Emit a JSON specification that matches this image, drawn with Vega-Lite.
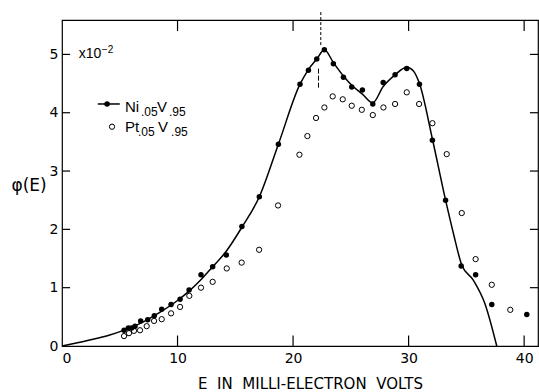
{
  "$schema": "https://vega.github.io/schema/vega-lite/v6.json",
  "width": 476,
  "height": 326,
  "autosize": {"type": "none"},
  "padding": {"left": 62, "top": 20, "right": 1, "bottom": 46},
  "background": "white",
  "config": {
    "view": {"stroke": "black", "strokeWidth": 1.2},
    "font": "Liberation Sans",
    "axis": {"grid": false, "domain": false, "ticks": false, "labelFont": "DejaVu Sans", "titleFont": "DejaVu Sans", "labelColor": "black", "titleColor": "black", "labelFontSize": 14, "titleFontWeight": "normal"}
  },
  "datasets": {
    "curve": [
      {"E": 0, "phi": 0}, {"E": 2.3, "phi": 0.1}, {"E": 4, "phi": 0.18}, {"E": 5.5, "phi": 0.28},
      {"E": 7, "phi": 0.41}, {"E": 8.5, "phi": 0.58}, {"E": 10, "phi": 0.78}, {"E": 11, "phi": 0.94},
      {"E": 12, "phi": 1.13}, {"E": 13, "phi": 1.35}, {"E": 14.2, "phi": 1.62}, {"E": 15.55, "phi": 2.03},
      {"E": 17.08, "phi": 2.56}, {"E": 18.73, "phi": 3.46}, {"E": 20.6, "phi": 4.49}, {"E": 21.33, "phi": 4.74},
      {"E": 22.05, "phi": 4.92}, {"E": 22.71, "phi": 5.08}, {"E": 23.49, "phi": 4.86}, {"E": 24.36, "phi": 4.63},
      {"E": 25.08, "phi": 4.47}, {"E": 26.0, "phi": 4.32}, {"E": 26.9, "phi": 4.17}, {"E": 27.8, "phi": 4.45},
      {"E": 28.83, "phi": 4.65}, {"E": 29.84, "phi": 4.78}, {"E": 30.4, "phi": 4.72}, {"E": 30.94, "phi": 4.5},
      {"E": 32.06, "phi": 3.55}, {"E": 33.2, "phi": 2.5}, {"E": 33.88, "phi": 1.93}, {"E": 34.6, "phi": 1.39},
      {"E": 35.6, "phi": 1.13}, {"E": 36.6, "phi": 0.73}, {"E": 37.63, "phi": 0.0}
    ],
    "ni": [
      {"E": 5.37, "phi": 0.27}, {"E": 5.74, "phi": 0.31}, {"E": 6.03, "phi": 0.31}, {"E": 6.32, "phi": 0.34},
      {"E": 6.81, "phi": 0.43}, {"E": 7.42, "phi": 0.45}, {"E": 7.99, "phi": 0.52}, {"E": 8.63, "phi": 0.63},
      {"E": 9.44, "phi": 0.71}, {"E": 10.22, "phi": 0.8}, {"E": 11.0, "phi": 0.96}, {"E": 12.03, "phi": 1.22},
      {"E": 13.04, "phi": 1.36}, {"E": 14.22, "phi": 1.56}, {"E": 15.57, "phi": 2.05}, {"E": 17.08, "phi": 2.56},
      {"E": 18.73, "phi": 3.46}, {"E": 20.6, "phi": 4.49}, {"E": 21.33, "phi": 4.73}, {"E": 22.05, "phi": 4.92},
      {"E": 22.71, "phi": 5.08}, {"E": 23.49, "phi": 4.84}, {"E": 24.36, "phi": 4.61}, {"E": 25.08, "phi": 4.44},
      {"E": 26.0, "phi": 4.39}, {"E": 26.9, "phi": 4.15}, {"E": 27.8, "phi": 4.52}, {"E": 28.83, "phi": 4.65},
      {"E": 29.84, "phi": 4.76}, {"E": 30.94, "phi": 4.49}, {"E": 32.06, "phi": 3.53}, {"E": 33.2, "phi": 2.5},
      {"E": 34.55, "phi": 1.37}, {"E": 35.8, "phi": 1.22}, {"E": 37.2, "phi": 0.71}, {"E": 40.23, "phi": 0.54}
    ],
    "pt": [
      {"E": 5.37, "phi": 0.17}, {"E": 5.8, "phi": 0.22}, {"E": 6.23, "phi": 0.26}, {"E": 6.75, "phi": 0.27},
      {"E": 7.33, "phi": 0.34}, {"E": 7.97, "phi": 0.43}, {"E": 8.63, "phi": 0.46}, {"E": 9.44, "phi": 0.56},
      {"E": 10.22, "phi": 0.67}, {"E": 11.02, "phi": 0.86}, {"E": 12.03, "phi": 1.0}, {"E": 13.04, "phi": 1.1},
      {"E": 14.26, "phi": 1.33}, {"E": 15.55, "phi": 1.43}, {"E": 17.06, "phi": 1.65}, {"E": 18.7, "phi": 2.41},
      {"E": 20.55, "phi": 3.28}, {"E": 21.24, "phi": 3.6}, {"E": 21.99, "phi": 3.91}, {"E": 22.71, "phi": 4.09},
      {"E": 23.43, "phi": 4.28}, {"E": 24.3, "phi": 4.23}, {"E": 25.08, "phi": 4.12}, {"E": 25.95, "phi": 4.05},
      {"E": 26.9, "phi": 3.96}, {"E": 27.82, "phi": 4.09}, {"E": 28.83, "phi": 4.15}, {"E": 29.84, "phi": 4.35},
      {"E": 30.91, "phi": 4.15}, {"E": 32.06, "phi": 3.82}, {"E": 33.3, "phi": 3.29}, {"E": 34.6, "phi": 2.28},
      {"E": 35.8, "phi": 1.49}, {"E": 37.2, "phi": 1.05}, {"E": 38.8, "phi": 0.62}
    ],
    "xticks": [{"E": 10}, {"E": 20}, {"E": 30}, {"E": 40}],
    "yticks": [{"phi": 1}, {"phi": 2}, {"phi": 3}, {"phi": 4}, {"phi": 5}]
  },
  "layer": [
    {
      "data": {"name": "curve"},
      "mark": {"type": "line", "interpolate": "monotone", "color": "black", "strokeWidth": 1.5},
      "encoding": {
        "x": {"field": "E", "type": "quantitative", "scale": {"domain": [0, 41.2], "nice": false, "zero": false},
          "axis": {"orient": "bottom", "values": [0, 10, 20, 30, 40], "labelPadding": 5, "title": "E\u00a0\u00a0IN\u00a0\u00a0MILLI-ELECTRON\u00a0\u00a0VOLTS", "titleFontSize": 15, "titlePadding": 11, "titleX": 248}},
        "y": {"field": "phi", "type": "quantitative", "scale": {"domain": [0, 5.59], "nice": false, "zero": false},
          "axis": {"orient": "left", "values": [0, 1, 2, 3, 4, 5], "labelPadding": 4, "title": "φ(E)", "titleFontSize": 17, "titleAngle": 0, "titleAlign": "left", "titleBaseline": "middle", "titleX": -51, "titleY": 165}}
      }
    },
    {
      "data": {"name": "xticks"},
      "mark": {"type": "rule", "color": "black", "strokeWidth": 1.2},
      "encoding": {
        "x": {"field": "E", "type": "quantitative", "axis": null},
        "y": {"datum": 0, "type": "quantitative", "axis": null},
        "y2": {"datum": 0.18}
      }
    },
    {
      "data": {"name": "xticks"},
      "mark": {"type": "rule", "color": "black", "strokeWidth": 1.2},
      "encoding": {
        "x": {"field": "E", "type": "quantitative", "axis": null},
        "y": {"datum": 5.4, "type": "quantitative", "axis": null},
        "y2": {"datum": 5.59}
      }
    },
    {
      "data": {"name": "yticks"},
      "mark": {"type": "rule", "color": "black", "strokeWidth": 1.2},
      "encoding": {
        "y": {"field": "phi", "type": "quantitative", "axis": null},
        "x": {"datum": 0, "type": "quantitative", "axis": null},
        "x2": {"datum": 0.7}
      }
    },
    {
      "data": {"name": "yticks"},
      "mark": {"type": "rule", "color": "black", "strokeWidth": 1.2},
      "encoding": {
        "y": {"field": "phi", "type": "quantitative", "axis": null},
        "x": {"datum": 40.5, "type": "quantitative", "axis": null},
        "x2": {"datum": 41.2}
      }
    },
    {
      "data": {"name": "ni"},
      "mark": {"type": "circle", "color": "black", "size": 30, "opacity": 1},
      "encoding": {
        "x": {"field": "E", "type": "quantitative", "axis": null},
        "y": {"field": "phi", "type": "quantitative", "axis": null}
      }
    },
    {
      "data": {"name": "pt"},
      "mark": {"type": "point", "shape": "circle", "color": "black", "size": 28, "strokeWidth": 1, "filled": false, "opacity": 1},
      "encoding": {
        "x": {"field": "E", "type": "quantitative", "axis": null},
        "y": {"field": "phi", "type": "quantitative", "axis": null}
      }
    },
    {
      "data": {"values": [{"E": 22.4, "lo": 5.16, "hi": 5.76}]},
      "mark": {"type": "rule", "color": "black", "strokeWidth": 1, "strokeDash": [3, 2], "clip": false},
      "encoding": {
        "x": {"field": "E", "type": "quantitative", "axis": null},
        "y": {"field": "lo", "type": "quantitative", "axis": null},
        "y2": {"field": "hi"}
      }
    },
    {
      "data": {"values": [{"E": 22.2, "lo": 4.43, "hi": 4.77}]},
      "mark": {"type": "rule", "color": "black", "strokeWidth": 1, "strokeDash": [5, 2]},
      "encoding": {
        "x": {"field": "E", "type": "quantitative", "axis": null},
        "y": {"field": "lo", "type": "quantitative", "axis": null},
        "y2": {"field": "hi"}
      }
    },
    {
      "data": {"values": [{"a": 3.1, "b": 5.0, "phi": 4.15}]},
      "mark": {"type": "rule", "color": "black", "strokeWidth": 1.5},
      "encoding": {
        "x": {"field": "a", "type": "quantitative", "axis": null},
        "x2": {"field": "b"},
        "y": {"field": "phi", "type": "quantitative", "axis": null}
      }
    },
    {
      "data": {"values": [{"E": 3.9, "phi": 4.15}]},
      "mark": {"type": "circle", "color": "black", "size": 30, "opacity": 1},
      "encoding": {
        "x": {"field": "E", "type": "quantitative", "axis": null},
        "y": {"field": "phi", "type": "quantitative", "axis": null}
      }
    },
    {
      "data": {"values": [{"E": 4.33, "phi": 3.76}]},
      "mark": {"type": "point", "shape": "circle", "color": "black", "size": 28, "strokeWidth": 1, "filled": false, "opacity": 1},
      "encoding": {
        "x": {"field": "E", "type": "quantitative", "axis": null},
        "y": {"field": "phi", "type": "quantitative", "axis": null}
      }
    },
    {
      "data": {"values": [
        {"t": "Ni", "E": 5.45, "phi": 4.01}, {"t": "V", "E": 8.23, "phi": 4.01},
        {"t": "Pt", "E": 5.45, "phi": 3.67}, {"t": "V", "E": 8.31, "phi": 3.67}
      ]},
      "mark": {"type": "text", "fontSize": 15, "align": "left", "baseline": "alphabetic", "color": "black"},
      "encoding": {
        "x": {"field": "E", "type": "quantitative", "axis": null},
        "y": {"field": "phi", "type": "quantitative", "axis": null},
        "text": {"field": "t"}
      }
    },
    {
      "data": {"values": [{"t": "x10", "E": 1.45, "phi": 4.94}]},
      "mark": {"type": "text", "fontSize": 14, "align": "left", "baseline": "alphabetic", "color": "black"},
      "encoding": {
        "x": {"field": "E", "type": "quantitative", "axis": null},
        "y": {"field": "phi", "type": "quantitative", "axis": null},
        "text": {"field": "t"}
      }
    },
    {
      "data": {"values": [
        {"t": ".05", "E": 6.84, "phi": 4.01}, {"t": ".95", "E": 9.26, "phi": 4.01},
        {"t": ".05", "E": 6.58, "phi": 3.67}, {"t": ".95", "E": 9.44, "phi": 3.67}
      ]},
      "mark": {"type": "text", "fontSize": 12, "align": "left", "baseline": "alphabetic", "dy": 4, "color": "black"},
      "encoding": {
        "x": {"field": "E", "type": "quantitative", "axis": null},
        "y": {"field": "phi", "type": "quantitative", "axis": null},
        "text": {"field": "t"}
      }
    },
    {
      "data": {"values": [{"t": "−2", "E": 3.45, "phi": 4.94}]},
      "mark": {"type": "text", "fontSize": 10, "align": "left", "baseline": "alphabetic", "dy": -5, "color": "black"},
      "encoding": {
        "x": {"field": "E", "type": "quantitative", "axis": null},
        "y": {"field": "phi", "type": "quantitative", "axis": null},
        "text": {"field": "t"}
      }
    }
  ],
  "resolve": {"axis": {"x": "independent", "y": "independent"}}
}
